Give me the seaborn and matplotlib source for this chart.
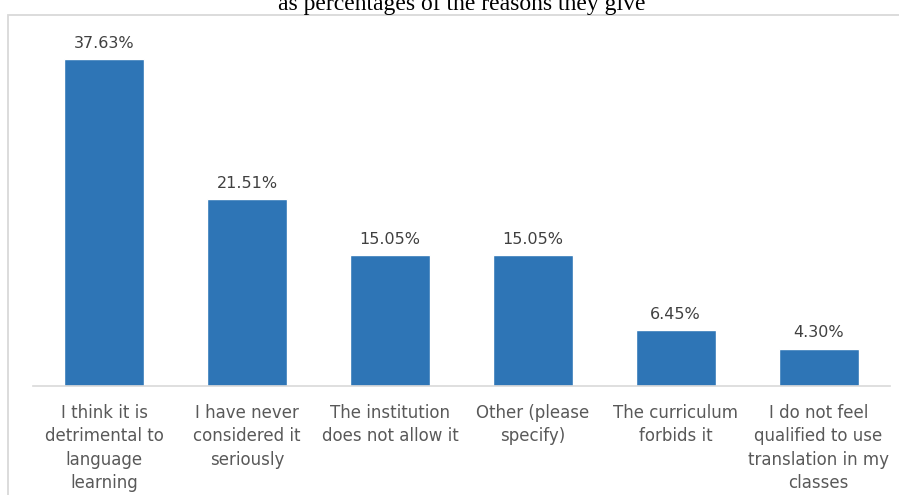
import matplotlib
matplotlib.use("Agg")
import matplotlib.pyplot as plt
from matplotlib.patches import Rectangle
import seaborn as sns
import pandas as pd

categories = [
    "I think it is\ndetrimental to\nlanguage\nlearning",
    "I have never\nconsidered it\nseriously",
    "The institution\ndoes not allow it",
    "Other (please\nspecify)",
    "The curriculum\nforbids it",
    "I do not feel\nqualified to use\ntranslation in my\nclasses",
]
percentages = [37.63, 21.51, 15.05, 15.05, 6.45, 4.30]
title_text = "as percentages of the reasons they give"

df = pd.DataFrame({"reason": categories, "pct": percentages})

sns.set_theme(style="white")
plt.rcParams["font.family"] = ["DejaVu Sans"]

W, H = 899, 495
fig = plt.figure(figsize=(W / 100, H / 100), dpi=100)
ax = fig.add_axes([33 / W, 1 - 386 / H, (890 - 33) / W, (386 - 29.7) / H])

sns.barplot(data=df, x="reason", y="pct", color="#2E75B6", saturation=1,
            width=0.56, ax=ax)

ax.set_ylim(0, 41)
ax.set_xlim(-0.5, len(categories) - 0.5)
ax.set_xlabel("")
ax.set_ylabel("")
ax.set_yticks([])
for side in ("top", "right", "left"):
    ax.spines[side].set_visible(False)
ax.spines["bottom"].set_color("#D9D9D9")
ax.spines["bottom"].set_linewidth(1.2)
ax.tick_params(axis="x", length=0, pad=13, labelsize=12, labelcolor="#595959")
for lbl in ax.get_xticklabels():
    lbl.set_linespacing(1.38)

ax.bar_label(ax.containers[0], labels=[f"{v:.2f}%" for v in percentages],
             padding=6, fontsize=11.5, color="#404040")

# chart border
fig.add_artist(Rectangle((8 / W, -0.1), 1.2, (H - 14.5) / H + 0.1,
                         transform=fig.transFigure, fill=False,
                         ec="#D9D9D9", lw=1.3))

fig.text(462 / W, 1 - 10 / H, title_text, ha="center", va="baseline",
         family="Liberation Serif", fontsize=17, color="#000000")

fig.savefig("out.png", dpi=100)
